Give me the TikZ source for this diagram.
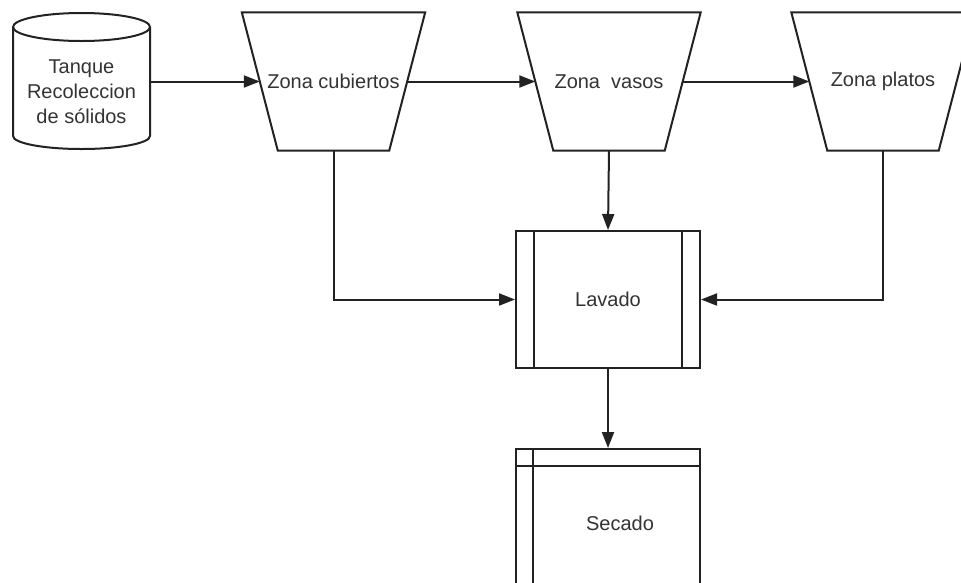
\documentclass[tikz,border=0pt]{standalone}
\usepackage{fontspec}
\setmainfont{Liberation Sans}
\usetikzlibrary{arrows.meta,calc}
\definecolor{ink}{HTML}{222222}
\definecolor{txt}{HTML}{333333}
\tikzset{
  line/.style={draw=ink, line width=2pt, line join=miter},
  arr/.style={line, -{Triangle[length=16pt,width=12pt]}},
  lbl/.style={text=txt, font=\fontsize{20}{25}\selectfont, align=center, inner sep=0pt},
  zone/.style={lbl, minimum width=183pt, minimum height=138pt},
  proc/.style={line, lbl, minimum width=184pt, minimum height=137pt}
}
\begin{document}
\begin{tikzpicture}[x=1pt,y=-1pt]
\useasboundingbox (0,0) rectangle (961,582);
\fill[white] (0,0) rectangle (961,582);
\clip (0,0) rectangle (961,582);

% storage tank
\node[minimum width=137pt, minimum height=136pt, inner sep=0pt] (tq) at (81.5,80) {};
\draw[line] (13,27) -- (13,136) arc[start angle=180, end angle=360, x radius=68.5, y radius=-13]
  -- (150,27);
\draw[line] (81.5,27) ellipse [x radius=68.5, y radius=14];
\node[lbl] (tqt) at (81.5,92) {Tanque\\Recoleccion\\de sólidos};

% sorting zones (inverted trapezoids)
\node[zone] (zc) at (333.5,81.5) {Zona cubiertos};
\node[zone] (zv) at (609,81.5) {Zona\ \ vasos};
\node[zone] (zp) at (883,81.5) {Zona platos};
\foreach \n in {zc,zv,zp}
  \draw[line] (\n.north west) -- (\n.north east) -- ($(\n.south east)+(-36,0)$)
    -- ($(\n.south west)+(36,0)$) -- cycle;

% washing and drying stages
\node[proc] (lav) at (608,299.5) {Lavado};
\draw[line] ($(lav.north west)+(19,0)$) -- ($(lav.south west)+(19,0)$);
\draw[line] ($(lav.north east)+(-19,0)$) -- ($(lav.south east)+(-19,0)$);

\node[proc] (sec) at (608,517.5) {};
\draw[line] ($(sec.north west)+(0,18)$) -- ($(sec.north east)+(0,18)$);
\draw[line] ($(sec.north west)+(18,0)$) -- ($(sec.south west)+(18,0)$);
\node[lbl] (secl) at (620,523) {Secado};

% flow
\draw[arr] (tq.east |- zc.west) -- ($(zc.west)+(18,0)$);
\draw[arr] ($(zc.east)+(-18,0)$) -- ($(zv.west)+(18,0)$);
\draw[arr] ($(zv.east)+(-18,0)$) -- ($(zp.west)+(18,0)$);
\draw[arr] (zv.south) -- (lav.north);
\draw[arr] (zc.south) |- (lav.west);
\draw[arr] (zp.south) |- (lav.east);
\draw[arr] (lav.south) -- (sec.north);
\end{tikzpicture}
\end{document}
